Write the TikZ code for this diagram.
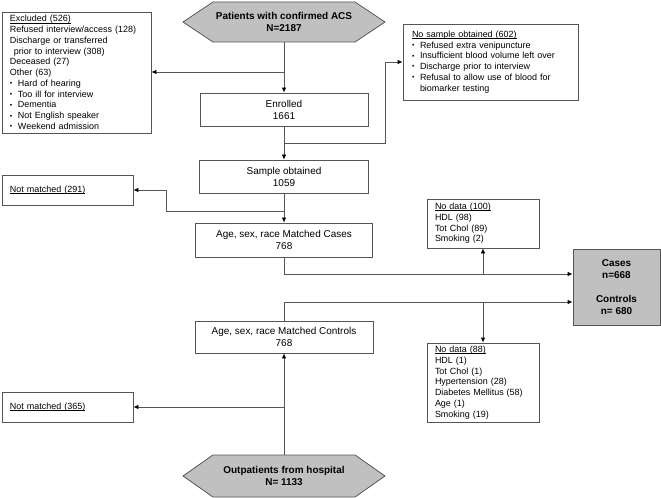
\documentclass[tikz,border=0pt]{standalone}
\usepackage{fontspec}
\usepackage{graphicx}
\setmainfont{Liberation Sans}
\usetikzlibrary{arrows.meta}
\definecolor{hexgray}{RGB}{192,192,192}
\definecolor{linegray}{RGB}{85,85,85}
\newcommand{\bul}{\makebox[8bp][l]{\raisebox{0.15ex}{\scalebox{0.75}{\textbullet}}}}
\newcommand{\bulsp}{\hspace*{8bp}}
\newcommand{\ulin}[1]{{\setbox0\hbox{#1}\rlap{\raisebox{-1.3bp}{\rule{\wd0}{0.5bp}}}\box0}}
\tikzset{
  mainbox/.style={draw=linegray, line width=0.8bp, fill=white, font=\fontsize{10}{12}\selectfont, align=center, inner sep=0pt},
  sidebox/.style={draw=linegray, line width=0.8bp, fill=white, font=\fontsize{9}{10.8}\selectfont, align=left, inner xsep=8bp, inner ysep=0pt},
  hextext/.style={font=\fontsize{10}{11.5}\selectfont\bfseries, align=center, inner sep=0pt},
  hexshape/.style={draw=linegray, line width=0.8bp, fill=hexgray},
  conn/.style={draw=linegray, line width=0.8bp, -{Latex[length=5bp,width=4.5bp,color=black]}},
  plain/.style={draw=linegray, line width=0.8bp}
}
\begin{document}
\begin{tikzpicture}[x=1bp, y=-1bp]
\useasboundingbox (0,0) rectangle (661,498);
% hexagons
\draw[hexshape] (183,22) -- (213,2) -- (355,2) -- (385,22) -- (355,42) -- (213,42) -- cycle;
\node[hextext, minimum width=202bp, minimum height=40bp] (top) at (284,22) {Patients with confirmed ACS\\N=2187};
\draw[hexshape] (183,476) -- (213,455) -- (355,455) -- (385,476) -- (355,497) -- (213,497) -- cycle;
\node[hextext, minimum width=202bp, minimum height=42bp] (bot) at (284,476) {Outpatients from hospital\\N= 1133};

% main boxes
\node[mainbox, minimum width=168bp, minimum height=33bp] (enr) at (284,109.5) {Enrolled\\1661};
\node[mainbox, minimum width=169bp, minimum height=33bp] (samp) at (284,176.5) {Sample obtained\\1059};
\node[mainbox, minimum width=177bp, minimum height=34bp] (mcas) at (284,240) {Age, sex, race Matched Cases\\768};
\node[mainbox, minimum width=178bp, minimum height=32bp] (mcon) at (284,337) {Age, sex, race Matched Controls\\768};
\node[mainbox, fill=hexgray, font=\fontsize{10}{12}\selectfont\bfseries, minimum width=87bp, minimum height=76bp] (cc) at (616.5,287) {Cases\\n=668\\[12pt]Controls\\n= 680};

% side boxes
\node[sidebox, text width=133bp, minimum height=121bp] (excl) at (76.5,72.5) {\ulin{Excluded (526)}\\
Refused interview/access (128)\\
Discharge or transferred\\
\hspace*{4bp}prior to interview (308)\\
Deceased (27)\\
Other (63)\\
\bul Hard of hearing\\
\bul Too ill for interview\\
\bul Dementia\\
\bul Not English speaker\\
\bul Weekend admission};
\node[sidebox, inner xsep=9bp, text width=157bp, minimum height=76bp] (nos) at (490.5,62) {\ulin{No sample obtained (602)}\\
\bul Refused extra venipuncture\\
\bul Insufficient blood volume left over\\
\bul Discharge prior to interview\\
\bul Refusal to allow use of blood for\\
\bulsp biomarker testing};
\node[sidebox, text width=115bp, minimum height=30bp] (nm1) at (67.5,190) {\ulin{Not matched (291)}};
\node[sidebox, text width=115bp, minimum height=30bp] (nm2) at (67.5,407) {\ulin{Not matched (365)}};
\node[sidebox, text width=96bp, minimum height=49bp] (nd1) at (483,223.5) {\ulin{No data (100)}\\
HDL (98)\\
Tot Chol (89)\\
Smoking (2)};
\node[sidebox, text width=96bp, minimum height=79bp] (nd2) at (483,382.5) {\ulin{No data (88)}\\
HDL (1)\\
Tot Chol (1)\\
Hypertension (28)\\
Diabetes Mellitus (58)\\
Age (1)\\
Smoking (19)};

% junction coordinates
\coordinate (j1) at (284,72);
\coordinate (j2) at (284,143);
\coordinate (k2) at (385,143);
\coordinate (j3) at (284,211);
\coordinate (k3) at (166,211);
\coordinate (j4) at (284,274);
\coordinate (j5) at (483,274);
\coordinate (j6) at (284,302);
\coordinate (j7) at (483,302);
\coordinate (j8) at (284,407);

% connectors
\draw[conn] (top.south) -- (enr.north);
\draw[conn] (j1) -- (j1 -| excl.east);
\draw[conn] (enr.south) -- (samp.north);
\draw[conn] (j2) -- (k2) |- (nos.west);
\draw[conn] (samp.south) -- (mcas.north);
\draw[conn] (j3) -- (k3) |- (nm1.east);
\draw[conn] (mcas.south) -- (j4) -- (j4 -| cc.west);
\draw[conn] (j5) -- (nd1.south);
\draw[conn] (mcon.north) -- (j6) -- (j6 -| cc.west);
\draw[conn] (j7) -- (nd2.north);
\draw[conn] (bot.north) -- (mcon.south);
\draw[conn] (j8) -- (j8 -| nm2.east);
\end{tikzpicture}
\end{document}
